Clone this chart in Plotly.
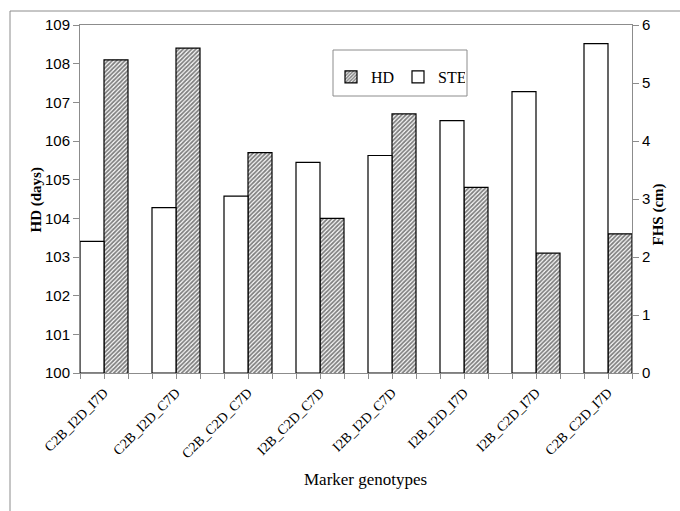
import plotly.graph_objects as go

# Marker genotype classes and their trait means
categories = ["C2B_I2D_I7D", "C2B_I2D_C7D", "C2B_C2D_C7D", "I2B_C2D_C7D",
              "I2B_I2D_C7D", "I2B_I2D_I7D", "I2B_C2D_I7D", "C2B_C2D_I7D"]
hd_days = [108.1, 108.4, 105.7, 104.0, 106.7, 104.8, 103.1, 103.6]
ste_cm = [2.27, 2.85, 3.05, 3.63, 3.75, 4.35, 4.85, 5.68]

hd_ticks = list(range(100, 110))
ste_ticks = list(range(0, 7))

xpos = list(range(len(categories)))

W, H = 680, 511
L, R, T, B = 80, 48, 25, 138
pw, ph = W - L - R, H - T - B

def px_x(v):
    return (v - L) / pw

def px_y(v):
    return (H - B - v) / ph

serif = "Liberation Serif"
sans = "Liberation Sans"
axis_grey = "#8c8c8c"

fig = go.Figure()

fig.add_trace(go.Bar(
    x=xpos, y=ste_cm, name="STE", yaxis="y2",
    width=1/3, offset=-1/3,
    marker=dict(color="white", line=dict(color="black", width=1.2)),
    legendrank=2,
))

fig.add_trace(go.Bar(
    x=xpos, y=hd_days, name="HD", yaxis="y",
    width=1/3, offset=0,
    marker=dict(color="white", line=dict(color="black", width=1.2),
                pattern=dict(shape="/", fgcolor="black", bgcolor="white",
                             size=3, solidity=0.6)),
    legendrank=1,
))

fig.update_layout(
    width=W, height=H,
    margin=dict(l=L, r=R, t=T, b=B),
    paper_bgcolor="white", plot_bgcolor="white",
    showlegend=True,
    legend=dict(
        orientation="h", x=px_x(331), y=px_y(60), xanchor="left", yanchor="top",
        borderwidth=0, bgcolor="rgba(0,0,0,0)",
        font=dict(family=serif, size=16, color="black"),
        entrywidth=22, itemwidth=30,
    ),
    xaxis=dict(
        range=[-1/3, len(categories) - 1 + 1/3],
        tickvals=xpos, ticktext=categories, tickangle=-45,
        tickfont=dict(family=serif, size=14, color="black"),
        ticks="outside", ticklen=5, tickcolor=axis_grey,
        minor=dict(ticks="outside", ticklen=5, tickcolor=axis_grey,
                   tick0=-1/3, dtick=1/3, showgrid=False),
        showline=True, linecolor=axis_grey, linewidth=1, mirror=True,
        showgrid=False, zeroline=False,
    ),
    yaxis=dict(
        range=[100, 109], tickvals=hd_ticks,
        tickfont=dict(family=sans, size=15, color="black"),
        ticks="outside", ticklen=6, tickcolor=axis_grey,
        showline=True, linecolor=axis_grey, linewidth=1,
        showgrid=False, zeroline=False,
    ),
    yaxis2=dict(
        range=[0, 6], tickvals=ste_ticks, overlaying="y", side="right",
        tickfont=dict(family=sans, size=15, color="black"),
        ticks="outside", ticklen=6, tickcolor=axis_grey,
        showline=True, linecolor=axis_grey, linewidth=1,
        showgrid=False, zeroline=False,
    ),
    shapes=[
        # outer chart frame (top and left edges)
        dict(type="line", xref="paper", yref="paper",
             x0=px_x(10), x1=px_x(W + 5), y0=px_y(11), y1=px_y(11),
             line=dict(color=axis_grey, width=1)),
        dict(type="line", xref="paper", yref="paper",
             x0=px_x(10), x1=px_x(10), y0=px_y(11), y1=px_y(H + 5),
             line=dict(color=axis_grey, width=1)),
        # legend box
        dict(type="rect", xref="paper", yref="paper",
             x0=px_x(333), x1=px_x(467), y0=px_y(96), y1=px_y(50),
             line=dict(color=axis_grey, width=1), fillcolor="white",
             layer="below"),
    ],
    annotations=[
        dict(text="<b>HD (days)</b>", xref="paper", yref="paper",
             x=px_x(25), y=px_y(200), textangle=-90, showarrow=False,
             font=dict(family=serif, size=15, color="black")),
        dict(text="<b>FHS (cm)</b>", xref="paper", yref="paper",
             x=px_x(669), y=px_y(215), textangle=-90, showarrow=False,
             font=dict(family=serif, size=15, color="black")),
        dict(text="Marker genotypes", xref="paper", yref="paper",
             x=px_x(365), y=px_y(491), showarrow=False,
             font=dict(family=serif, size=17, color="black")),
    ],
)

fig.write_html("out.html")
